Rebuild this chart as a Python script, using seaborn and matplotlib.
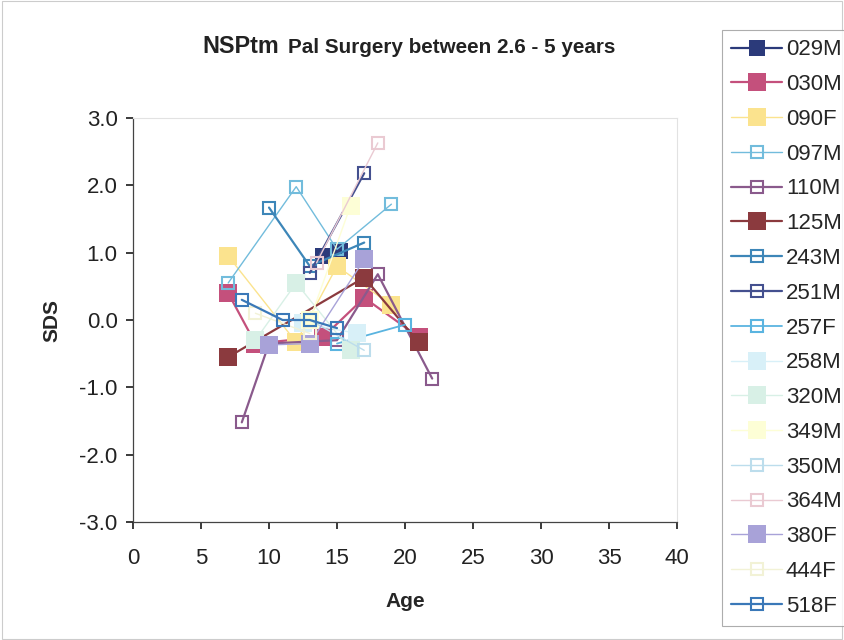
import pandas as pd
import seaborn as sns
import matplotlib.pyplot as plt
from matplotlib.patches import Rectangle

sns.set_theme(style="white")
plt.rcParams["font.family"] = ["Liberation Sans", "DejaVu Sans"]

# series: subject id -> (ages, SDS)
ids = ["029M", "030M", "090F", "097M", "110M", "125M", "243M", "251M", "257F",
       "258M", "320M", "349M", "350M", "364M", "380F", "444F", "518F"]

age_029M = [14.0, 15.2];            sds_029M = [0.95, 1.02]
age_030M = [7, 9, 14, 17, 21];      sds_030M = [0.40, -0.35, -0.25, 0.33, -0.25]
age_090F = [7, 12, 15, 19];         sds_090F = [0.95, -0.33, 0.80, 0.22]
age_097M = [7, 12, 15, 19];         sds_097M = [0.55, 1.98, 1.05, 1.72]
age_110M = [8, 10, 15, 18, 22];     sds_110M = [-1.52, -0.35, -0.30, 0.68, -0.87]
age_125M = [7, 17, 21];             sds_125M = [-0.55, 0.63, -0.33]
age_243M = [10, 13, 17];            sds_243M = [1.67, 0.80, 1.15]
age_251M = [13, 17];                sds_251M = [0.70, 2.18]
age_257F = [15, 20];                sds_257F = [-0.35, -0.07]
age_258M = [12.5, 16.5];            sds_258M = [-0.05, -0.20]
age_320M = [9, 12, 16];             sds_320M = [-0.30, 0.55, -0.45]
age_349M = [13, 16];                sds_349M = [0.00, 1.70]
age_350M = [13, 17];                sds_350M = [0.00, -0.45]
age_364M = [13.5, 18];              sds_364M = [0.85, 2.63]
age_380F = [10, 13, 17];            sds_380F = [-0.37, -0.35, 0.90]
age_444F = [9, 13];                 sds_444F = [0.10, -0.20]
age_518F = [8, 11, 13, 15];         sds_518F = [0.30, 0.00, 0.00, -0.12]

ages = [age_029M, age_030M, age_090F, age_097M, age_110M, age_125M, age_243M,
        age_251M, age_257F, age_258M, age_320M, age_349M, age_350M, age_364M,
        age_380F, age_444F, age_518F]
sds = [sds_029M, sds_030M, sds_090F, sds_097M, sds_110M, sds_125M, sds_243M,
       sds_251M, sds_257F, sds_258M, sds_320M, sds_349M, sds_350M, sds_364M,
       sds_380F, sds_444F, sds_518F]

# (line colour, filled?, marker size, line width)
styles = {
    "029M": ("#2B3A7A", True, 11, 1.6),
    "030M": ("#C4507C", True, 13, 1.6),
    "090F": ("#FBE38E", True, 13, 1.0),
    "097M": ("#72BCDC", False, 8, 1.0),
    "110M": ("#8A5A8C", False, 8, 1.6),
    "125M": ("#8B3A3E", True, 13, 1.6),
    "243M": ("#3D86B8", False, 8, 1.6),
    "251M": ("#44508F", False, 8, 1.6),
    "257F": ("#5AB4E0", False, 8, 1.3),
    "258M": ("#D8F0F8", True, 13, 1.0),
    "320M": ("#D8F0E6", True, 13, 1.0),
    "349M": ("#FDFED6", True, 13, 1.0),
    "350M": ("#BCDDEC", False, 8, 1.0),
    "364M": ("#EACAD2", False, 8, 1.0),
    "380F": ("#A8A2D8", True, 13, 1.0),
    "444F": ("#F2F2D6", False, 8, 1.0),
    "518F": ("#3A78B8", False, 8, 1.6),
}

fig = plt.figure(figsize=(8.44, 6.4), dpi=100)
ax = fig.add_axes([133 / 844, 1 - 522 / 640, 544 / 844, 404 / 640])

for sid, x, y in zip(ids, ages, sds):
    col, filled, ms, lw = styles[sid]
    df = pd.DataFrame({"Age": x, "SDS": y})
    sns.lineplot(data=df, x="Age", y="SDS", ax=ax, estimator=None, sort=False,
                 color=col, linewidth=lw, marker="s", markersize=ms,
                 markerfacecolor=col if filled else "none",
                 markeredgecolor=col, markeredgewidth=0 if filled else 1.5,
                 label=sid)

handles, labels = ax.get_legend_handles_labels()
if ax.get_legend() is not None:
    ax.get_legend().remove()

ax.set_xlim(0, 40)
ax.set_ylim(-3, 3)
ax.set_xticks(range(0, 41, 5))
ax.set_yticks([-3, -2, -1, 0, 1, 2, 3])
ax.set_yticklabels([f"{v:.1f}" for v in [-3, -2, -1, 0, 1, 2, 3]])
ax.tick_params(axis="both", labelsize=16, colors="#222222", length=5,
               direction="out", left=True, bottom=True)
ax.tick_params(axis="y", pad=6)
ax.tick_params(axis="x", pad=14)
for s in ["left", "bottom"]:
    ax.spines[s].set_color("#444444")
    ax.spines[s].set_linewidth(0.9)
for s in ["top", "right"]:
    ax.spines[s].set_color("#E2E2E2")
    ax.spines[s].set_linewidth(0.8)

ax.set_xlabel("Age", fontsize=15, fontweight="bold", labelpad=16)
ax.set_ylabel("SDS", fontsize=15, fontweight="bold", labelpad=13)

fig.text(202 / 844, 1 - 53 / 640, "NSPtm", fontsize=16.8, fontweight="bold",
         ha="left", va="baseline", color="#222222")
fig.text(288 / 844, 1 - 53 / 640, "Pal Surgery between 2.6 - 5 years",
         fontsize=14.9, fontweight="bold", ha="left", va="baseline", color="#222222")

leg = fig.legend(handles, labels, loc="upper left",
                 bbox_to_anchor=(722 / 844, 1 - 30 / 640), fontsize=16,
                 frameon=True, fancybox=False, borderpad=0.42, labelspacing=0.62,
                 handlelength=2.3, handletextpad=0.15, borderaxespad=0)
leg.get_frame().set_edgecolor("#999999")
leg.get_frame().set_linewidth(0.8)

fig.patches.append(Rectangle((0.002, 0.002), 0.996, 0.996, transform=fig.transFigure,
                             fill=False, edgecolor="#CCCCCC", linewidth=0.8))

fig.savefig("out.png", dpi=100)
